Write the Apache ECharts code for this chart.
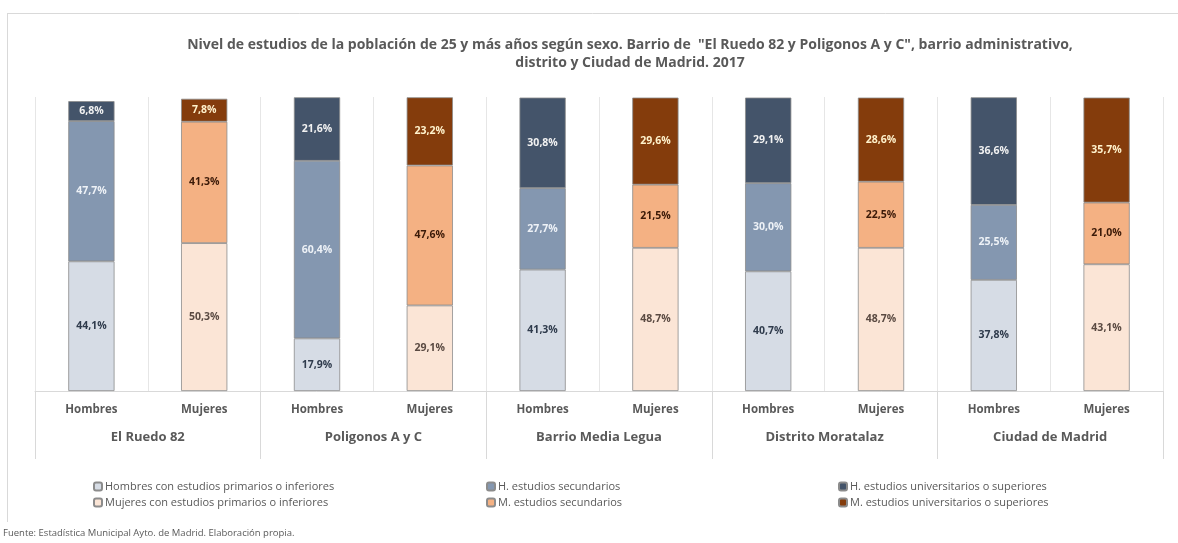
<!DOCTYPE html>
<html>
<head>
<meta charset="utf-8">
<script src="https://cdn.jsdelivr.net/npm/echarts@6/dist/echarts.min.js"></script>
<style>
html,body{margin:0;padding:0;background:#fff;}
#chart{width:1178px;height:543px;}
</style>
</head>
<body>
<div id="chart"></div>
<script>
var groups = ['El Ruedo 82', 'Poligonos A y C', 'Barrio Media Legua', 'Distrito Moratalaz', 'Ciudad de Madrid'];
var sexes = ['Hombres', 'Mujeres'];
var hPrim = [44.1, 17.9, 41.3, 40.7, 37.8];
var hSec = [47.7, 60.4, 27.7, 30.0, 25.5];
var hUniv = [6.8, 21.6, 30.8, 29.1, 36.6];
var mPrim = [50.3, 29.1, 48.7, 48.7, 43.1];
var mSec = [41.3, 47.6, 21.5, 22.5, 21.0];
var mUniv = [7.8, 23.2, 29.6, 28.6, 35.7];
var seriesNames = [
  'Hombres con estudios primarios o inferiores',
  'H. estudios secundarios',
  'H. estudios universitarios o superiores',
  'Mujeres con estudios primarios o inferiores',
  'M. estudios secundarios',
  'M. estudios universitarios o superiores'
];
var title1 = 'Nivel de estudios de la población de 25 y más años según sexo. Barrio de  "El Ruedo 82 y Poligonos A y C", barrio administrativo,';
var title2 = 'distrito y Ciudad de Madrid. 2017';
var source = 'Fuente: Estadística Municipal Ayto. de Madrid. Elaboración propia.';

var FONT = 'Open Sans';
var cats = [];
groups.forEach(function () { sexes.forEach(function (s) { cats.push(s); }); });

function spread(vals, slot) {
  var out = [];
  vals.forEach(function (v) {
    for (var k = 0; k < 2; k++) out.push(k === slot ? v : '-');
  });
  return out;
}
function fmt(p) { return p.value.toFixed(1).replace('.', ',') + '%'; }

var specs = [
  { vals: hPrim, slot: 0, color: '#d6dce5', label: '#2f3b4c' },
  { vals: hSec, slot: 0, color: '#8497b0', label: '#eef2f7' },
  { vals: hUniv, slot: 0, color: '#44546a', label: '#f2f2f2' },
  { vals: mPrim, slot: 1, color: '#fbe5d6', label: '#5a4a42' },
  { vals: mSec, slot: 1, color: '#f4b183', label: '#3b1a08' },
  { vals: mUniv, slot: 1, color: '#843c0c', label: '#fff2cc' }
];

var series = specs.map(function (s, i) {
  return {
    name: seriesNames[i],
    type: 'bar',
    stack: 'total',
    barWidth: '41%',
    data: spread(s.vals, s.slot),
    itemStyle: { color: s.color, borderColor: '#8c8c8c', borderWidth: 0.8 },
    label: {
      show: true, position: 'inside', formatter: fmt,
      color: s.label, fontFamily: FONT, fontWeight: 'bold', fontSize: 10.5
    },
    emphasis: { disabled: true }
  };
});

function legend(names, left) {
  return {
    data: names, orient: 'vertical', left: left, top: 476,
    itemWidth: 8, itemHeight: 8, itemGap: 5,
    textStyle: { color: '#595959', fontFamily: FONT, fontSize: 11, padding: [0, 0, 0, -2] },
    selectedMode: false
  };
}

var chart = echarts.init(document.getElementById('chart'), null, { renderer: 'canvas' });
chart.setOption({
  animation: false,
  backgroundColor: '#ffffff',
  title: {
    text: title1 + '\n' + title2,
    left: 625, top: 31, textAlign: 'center',
    textStyle: { fontFamily: FONT, fontSize: 14, fontWeight: 'bold', color: '#595959', lineHeight: 18 }
  },
  graphic: [
    { type: 'line', shape: { x1: 7, y1: 13.5, x2: 1178, y2: 13.5 }, style: { stroke: '#d9d9d9', lineWidth: 1 }, silent: true, z: -1 },
    { type: 'line', shape: { x1: 7.5, y1: 13, x2: 7.5, y2: 522 }, style: { stroke: '#d9d9d9', lineWidth: 1 }, silent: true, z: -1 },
    { type: 'text', left: 3, top: 528, style: { text: source, fill: '#595959', font: '9.5px "' + FONT + '"' }, silent: true }
  ],
  legend: [
    legend([seriesNames[0], seriesNames[3]], 88),
    legend([seriesNames[1], seriesNames[4]], 481),
    legend([seriesNames[2], seriesNames[5]], 833)
  ],
  grid: { left: 35, right: 15, top: 97, bottom: 152 },
  xAxis: [
    {
      type: 'category', data: cats, position: 'bottom',
      axisLine: { show: true, lineStyle: { color: '#d9d9d9' } },
      axisTick: { show: false },
      splitLine: { show: true, lineStyle: { color: '#e6e6e6' } },
      axisLabel: { interval: 0, margin: 13, color: '#595959', fontFamily: FONT, fontWeight: 'bold', fontSize: 11.5 }
    },
    {
      type: 'category', data: groups, position: 'bottom', offset: 0,
      axisLine: { show: false },
      axisTick: { show: true, length: 68, interval: 0, lineStyle: { color: '#d9d9d9' } },
      axisLabel: { interval: 0, margin: 40, color: '#595959', fontFamily: FONT, fontWeight: 'bold', fontSize: 13 }
    }
  ],
  yAxis: {
    type: 'value', min: 0, max: 100, show: false,
    splitLine: { show: false }
  },
  series: series
});
</script>
</body>
</html>
